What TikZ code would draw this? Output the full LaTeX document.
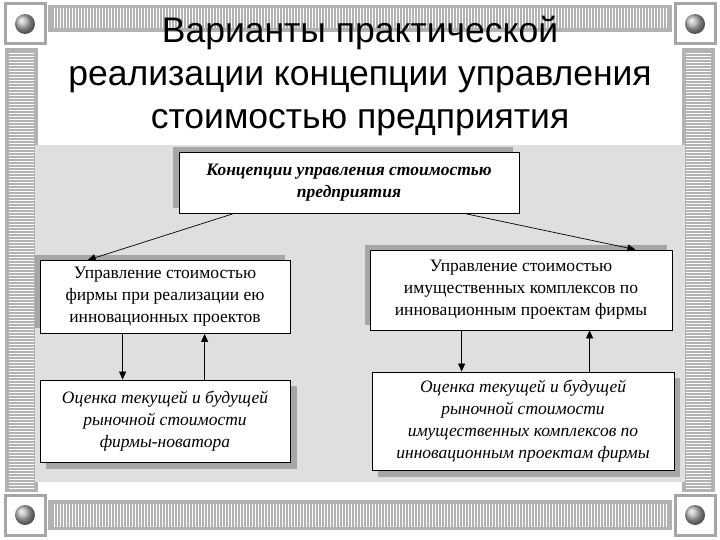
\documentclass[tikz,border=0pt]{standalone}
\usepackage{fontspec}
\setmainfont{Liberation Serif}
\newfontfamily\titlefont{Liberation Sans}
\usetikzlibrary{patterns,arrows.meta,calc}
\tikzset{
 cornerbox/.style={fill=white,draw=gray!70,line width=3pt},
 box/.style={draw=black,line width=0.8pt,fill=white,align=center,inner sep=0pt,font=\fontsize{17.5}{22}\selectfont},
 shadowbox/.style={fill=gray!70},
 arr/.style={-{Triangle[length=8pt,width=7pt]},line width=0.7pt}
}
\begin{document}
\begin{tikzpicture}[x=1pt,y=-1pt]
\useasboundingbox (0,0) rectangle (720,540);
\fill[white] (0,0) rectangle (720,540);
% bands
\fill[gray!60] (48,5) rectangle (672,32);
\fill[pattern=vertical lines,pattern color=white] (52,9) rectangle (668,28);
\fill[gray!60] (48,500) rectangle (672,530);
\fill[pattern=vertical lines,pattern color=white] (52,504) rectangle (668,526);
\fill[gray!60] (5,48) rectangle (38,492);
\fill[pattern=horizontal lines,pattern color=white] (9,52) rectangle (34,488);
\fill[gray!60] (682,48) rectangle (715,492);
\fill[pattern=horizontal lines,pattern color=white] (686,52) rectangle (711,488);
% corners
\foreach \cx/\cy in {25/24,695/24,25/515,695/515}{
 \draw[cornerbox] (\cx-20,\cy-20) rectangle (\cx+20,\cy+20);
 \shade[ball color=gray!60] (\cx,\cy) circle (10);
}
% title
\node[font=\titlefont\fontsize{35.5}{43}\selectfont,align=center] (title) at (360,76)
 {Варианты практической\\реализации концепции управления\\стоимостью предприятия};
% panel
\fill[gray!25] (35,145) rectangle (685,482);
% shadows
\fill[shadowbox] (173,147) rectangle (513,208);
\fill[shadowbox] (35,255) rectangle (285,328);
\fill[shadowbox] (365,245) rectangle (667,325);
\fill[shadowbox] (46,386) rectangle (297,469);
\fill[shadowbox] (378,378) rectangle (680,477);
% boxes
\node[box,minimum width=340pt,minimum height=61pt,font=\bfseries\itshape\fontsize{17.5}{22}\selectfont] (top) at (349,183)
 {Концепции управления стоимостью\\предприятия};
\node[box,minimum width=250pt,minimum height=73pt] (ml) at (165,297)
 {Управление стоимостью\\фирмы при реализации ею\\инновационных проектов};
\node[box,minimum width=302pt,minimum height=80pt] (mr) at (521,290)
 {Управление стоимостью\\имущественных комплексов по\\инновационным проектам фирмы};
\node[box,minimum width=250pt,minimum height=82pt,font=\itshape\fontsize{17.5}{22}\selectfont] (bl) at (165,421)
 {Оценка текущей и будущей\\рыночной стоимости\\фирмы-новатора};
\node[box,minimum width=302pt,minimum height=98pt,font=\itshape\fontsize{17.5}{22}\selectfont] (br) at (523,421)
 {Оценка текущей и будущей\\рыночной стоимости\\имущественных комплексов по\\инновационным проектам фирмы};
% arrows
\coordinate (t1) at ($(top.south west)+(54,0)$);
\coordinate (m1) at ($(ml.north west)+(48,0)$);
\coordinate (t2) at ($(top.south east)+(-53,0)$);
\coordinate (m2) at ($(mr.north east)+(-37,0)$);
\draw[arr] (t1) -- (m1);
\draw[arr] (t2) -- (m2);
\coordinate (a1) at ($(ml.south west)+(83,0)$);
\coordinate (a2) at ($(ml.south west)+(165,0)$);
\coordinate (a3) at ($(mr.south west)+(92,0)$);
\coordinate (a4) at ($(mr.south west)+(220,0)$);
\draw[arr] (a1) -- (a1 |- bl.north);
\draw[arr] (a2 |- bl.north) -- (a2);
\draw[arr] (a3) -- (a3 |- br.north);
\draw[arr] (a4 |- br.north) -- (a4);
\end{tikzpicture}
\end{document}
